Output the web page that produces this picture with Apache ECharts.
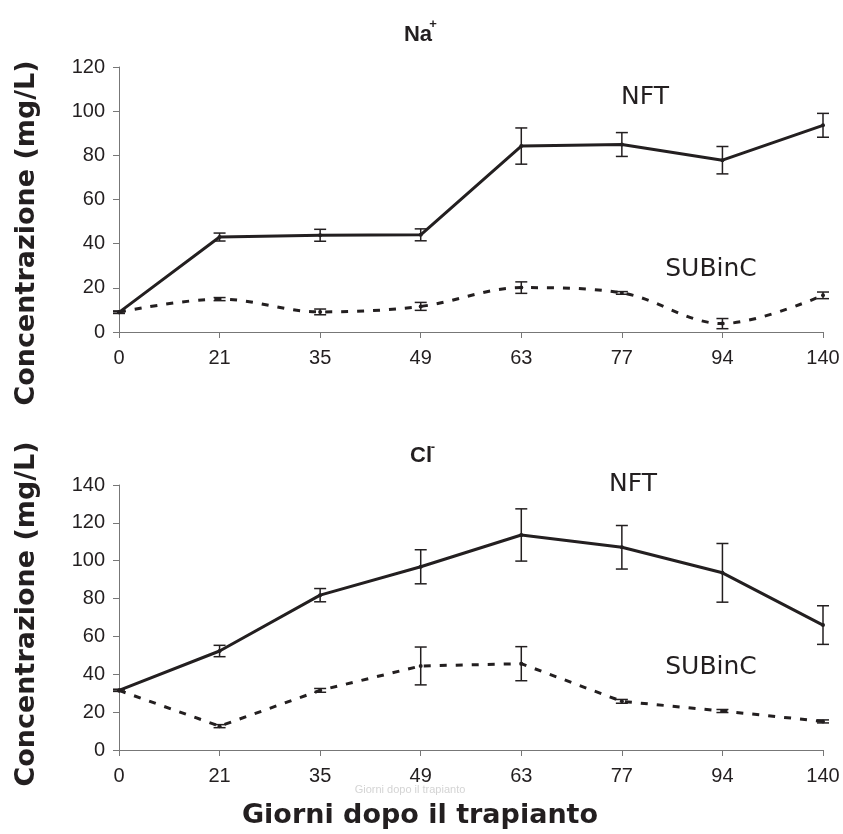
<!DOCTYPE html>
<html>
<head>
<meta charset="utf-8">
<script src="https://cdn.jsdelivr.net/npm/echarts@6/dist/echarts.min.js"></script>
<style>
  html, body { margin: 0; background: #fff; }
  #main { width: 843px; height: 834px; }
</style>
</head>
<body>
<div id="main"></div>
<script>
// giorni dopo il trapianto
var giorni = ['0', '21', '35', '49', '63', '77', '94', '140'];

// Na+ (mg/L)
var naNFT = [8.9, 43, 43.8, 44, 84.2, 84.9, 77.8, 93.6];
var naNFTErr = [0.5, 1.8, 2.7, 2.7, 8.2, 5.4, 6.2, 5.4];
var naSUB = [9, 14.9, 9.1, 11.6, 20.1, 17.7, 3.8, 16.6];
var naSUBErr = [0.5, 0.7, 1.3, 1.8, 2.6, 0.6, 2.3, 1.5];

// Cl- (mg/L)
var clNFT = [31.5, 52.3, 81.8, 96.8, 113.6, 107.1, 93.6, 66];
var clNFTErr = [0.5, 3, 3.5, 9, 13.8, 11.5, 15.5, 10.2];
var clSUB = [31.5, 12.6, 31.5, 44.4, 45.6, 25.7, 20.6, 15.1];
var clSUBErr = [0.5, 0.8, 1, 10, 9, 1, 0.8, 0.8];

var ink = '#231f20';
var tickFont = '"Liberation Sans Narrow", "Liberation Sans", Arial, sans-serif';
var verdana = '"DejaVu Sans", Verdana, sans-serif';

function errData(vals, errs) {
  return vals.map(function (v, i) { return [i, v - errs[i], v + errs[i]]; });
}

function renderErr(params, api) {
  var x = api.value(0);
  var lo = api.coord([x, api.value(1)]);
  var hi = api.coord([x, api.value(2)]);
  var w = 6;
  var st = { stroke: ink, lineWidth: 1.5 };
  return {
    type: 'group',
    children: [
      { type: 'line', shape: { x1: hi[0], y1: hi[1], x2: lo[0], y2: lo[1] }, style: st },
      { type: 'line', shape: { x1: hi[0] - w, y1: hi[1], x2: hi[0] + w, y2: hi[1] }, style: st },
      { type: 'line', shape: { x1: lo[0] - w, y1: lo[1], x2: lo[0] + w, y2: lo[1] }, style: st }
    ]
  };
}

function xAx(gi) {
  return {
    type: 'category', gridIndex: gi, data: giorni, boundaryGap: false,
    axisLine: { lineStyle: { color: '#777', width: 1 } },
    axisTick: { length: 6, lineStyle: { color: '#777' }, alignWithLabel: true },
    axisLabel: { color: ink, fontSize: 20, fontFamily: tickFont, margin: 16 },
    splitLine: { show: false }
  };
}

function yAx(gi, max) {
  return {
    type: 'value', gridIndex: gi, min: 0, max: max, interval: 20,
    axisLine: { show: true, lineStyle: { color: '#777', width: 1 } },
    axisTick: { show: true, length: 6, lineStyle: { color: '#777' } },
    axisLabel: { color: ink, fontSize: 20, fontFamily: tickFont, margin: 14 },
    splitLine: { show: false }
  };
}

function lineSeries(gi, vals, dashed, smooth) {
  return {
    type: 'line', xAxisIndex: gi, yAxisIndex: gi, data: vals,
    smooth: smooth, symbol: 'circle', symbolSize: 4,
    itemStyle: { color: ink },
    lineStyle: { color: ink, width: 3, type: dashed ? [7, 9] : 'solid' },
    z: 3
  };
}

function errSeries(gi, vals, errs) {
  return {
    type: 'custom', xAxisIndex: gi, yAxisIndex: gi,
    data: errData(vals, errs), renderItem: renderErr,
    encode: { x: 0, y: [1, 2] }, z: 4
  };
}

function txt(x, y, s, size, weight, family, extra) {
  var o = {
    type: 'text', x: x, y: y,
    style: { text: s, fill: ink, fontSize: size, fontWeight: weight, fontFamily: family,
      textAlign: 'center', textVerticalAlign: 'middle' }
  };
  if (extra) { for (var k in extra) o[k] = extra[k]; }
  return o;
}

var chart = echarts.init(document.getElementById('main'));

chart.setOption({
  backgroundColor: '#fff',
  animation: false,
  grid: [
    { left: 119, top: 67, width: 704, height: 265 },
    { left: 119, top: 485, width: 704, height: 265 }
  ],
  xAxis: [xAx(0), xAx(1)],
  yAxis: [yAx(0, 120), yAx(1, 140)],
  series: [
    lineSeries(0, naNFT, false, false),
    lineSeries(0, naSUB, true, 0.35),
    errSeries(0, naNFT, naNFTErr),
    errSeries(0, naSUB, naSUBErr),
    lineSeries(1, clNFT, false, false),
    lineSeries(1, clSUB, true, false),
    errSeries(1, clNFT, clNFTErr),
    errSeries(1, clSUB, clSUBErr)
  ],
  graphic: [
    txt(418, 35, 'Na', 22, 'bold', tickFont),
    txt(433, 24, '+', 13, 'bold', tickFont),
    txt(421, 456, 'Cl', 22, 'bold', tickFont),
    txt(433, 447, '-', 13, 'bold', tickFont),
    txt(645, 97, 'NFT', 25, 'normal', verdana),
    txt(711, 269, 'SUBinC', 25, 'normal', verdana),
    txt(633, 484, 'NFT', 25, 'normal', verdana),
    txt(711, 667, 'SUBinC', 25, 'normal', verdana),
    txt(27, 233, 'Concentrazione (mg/L)', 27, 'bold', verdana, { rotation: Math.PI / 2 }),
    txt(27, 614, 'Concentrazione (mg/L)', 27, 'bold', verdana, { rotation: Math.PI / 2 }),
    txt(410, 790, 'Giorni dopo il trapianto', 11, 'normal', tickFont, { style: {
      text: 'Giorni dopo il trapianto', fill: '#d4d4d4', fontSize: 11, fontFamily: tickFont,
      textAlign: 'center', textVerticalAlign: 'middle' } }),
    txt(420, 816, 'Giorni dopo il trapianto', 27, 'bold', verdana)
  ]
});
</script>
</body>
</html>
